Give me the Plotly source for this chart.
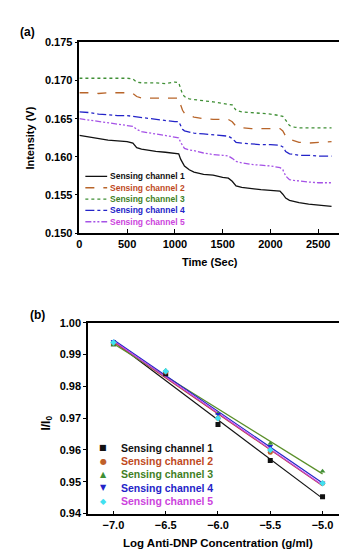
import numpy as np
import plotly.graph_objects as go

# ---------------- Panel (a) data ----------------
time_s = [0, 100, 200, 300, 400, 500, 560, 600, 650, 700, 800, 900, 1000, 1040, 1060, 1080, 1100,
          1150, 1200, 1300, 1400, 1500, 1560, 1600, 1640, 1700, 1800, 1900, 2000, 2100, 2130, 2160,
          2200, 2250, 2300, 2400, 2500, 2600, 2640]

ch1_intensity = [0.1628, 0.1626, 0.1624, 0.1622, 0.1621, 0.1620, 0.1618, 0.1612, 0.1610, 0.1609,
                 0.1607, 0.1606, 0.1604, 0.1604, 0.1597, 0.1592, 0.1588, 0.1583, 0.1580, 0.1577,
                 0.1576, 0.1573, 0.1572, 0.1568, 0.1562, 0.1560, 0.1558, 0.1557, 0.1556, 0.1555,
                 0.1551, 0.1546, 0.1543, 0.1541, 0.1540, 0.1538, 0.1537, 0.1536, 0.1535]
ch2_intensity = [0.1684, 0.1684, 0.1683, 0.1684, 0.1684, 0.1684, 0.1683, 0.1679, 0.1677, 0.1677,
                 0.1677, 0.1677, 0.1677, 0.1677, 0.1668, 0.1661, 0.1657, 0.1654, 0.1652, 0.1650,
                 0.1649, 0.1649, 0.1649, 0.1646, 0.1640, 0.1638, 0.1637, 0.1637, 0.1637, 0.1637,
                 0.1634, 0.1627, 0.1623, 0.1621, 0.1619, 0.1618, 0.1619, 0.1620, 0.1620]
ch3_intensity = [0.1703, 0.1703, 0.1703, 0.1703, 0.1703, 0.1703, 0.1702, 0.1698, 0.1697, 0.1697,
                 0.1697, 0.1696, 0.1698, 0.1697, 0.1688, 0.1682, 0.1679, 0.1676, 0.1675, 0.1674,
                 0.1672, 0.1670, 0.1669, 0.1668, 0.1661, 0.1659, 0.1658, 0.1657, 0.1656, 0.1654,
                 0.1653, 0.1648, 0.1641, 0.1639, 0.1638, 0.1638, 0.1638, 0.1638, 0.1638]
ch4_intensity = [0.1659, 0.1658, 0.1656, 0.1655, 0.1654, 0.1654, 0.1653, 0.1652, 0.1651, 0.1650,
                 0.1649, 0.1647, 0.1646, 0.1646, 0.1640, 0.1636, 0.1634, 0.1632, 0.1631, 0.1630,
                 0.1629, 0.1628, 0.1627, 0.1624, 0.1619, 0.1618, 0.1617, 0.1616, 0.1616, 0.1615,
                 0.1613, 0.1607, 0.1604, 0.1603, 0.1602, 0.1602, 0.1601, 0.1601, 0.1601]
ch5_intensity = [0.1650, 0.1648, 0.1646, 0.1644, 0.1642, 0.1641, 0.1640, 0.1636, 0.1633, 0.1632,
                 0.1630, 0.1628, 0.1626, 0.1625, 0.1619, 0.1614, 0.1611, 0.1609, 0.1608, 0.1605,
                 0.1603, 0.1602, 0.1601, 0.1598, 0.1594, 0.1592, 0.1590, 0.1589, 0.1588, 0.1586,
                 0.1583, 0.1575, 0.1570, 0.1569, 0.1568, 0.1567, 0.1566, 0.1566, 0.1566]

channel_names = ["Sensing channel 1", "Sensing channel 2", "Sensing channel 3",
                 "Sensing channel 4", "Sensing channel 5"]

# ---------------- Panel (b) data ----------------
log_conc = [-7.0, -6.5, -6.0, -5.5, -5.0]
ch1_ratio = [0.9934, 0.9840, 0.9680, 0.9567, 0.9453]
ch2_ratio = [0.9935, 0.9845, 0.9700, 0.9593, 0.9495]
ch3_ratio = [0.9930, 0.9850, 0.9715, 0.9620, 0.9533]
ch4_ratio = [0.9942, 0.9845, 0.9712, 0.9612, 0.9496]
ch5_ratio = [0.9938, 0.9848, 0.9700, 0.9600, 0.9495]

a_ticks_x = [0, 500, 1000, 1500, 2000, 2500]
a_ticks_y = [0.150, 0.155, 0.160, 0.165, 0.170, 0.175]
b_ticks_x = [-7.0, -6.5, -6.0, -5.5, -5.0]
b_ticks_y = [0.94, 0.95, 0.96, 0.97, 0.98, 0.99, 1.00]

# ---------------- styles ----------------
W, H = 347, 550
FONT = "Liberation Sans, Arial, sans-serif"
line_colors_a = ["#111111", "#b8652a", "#3f8f35", "#2323c8", "#a552e6"]
dashes_a = ["solid", "dash", "dot", "dashdot", "6px,2px,2px,2px,2px,2px"]
legend_text_colors = ["#111111", "#c04a1e", "#3f7f25", "#2323c8", "#cc44dd"]

line_colors_b = ["#111111", "#b8452a", "#5a8f2a", "#2323c8", "#c040e0"]
marker_colors_b = ["#111111", "#c0602a", "#3f8f35", "#2323c8", "#40e0f0"]
marker_symbols_b = ["square", "circle", "triangle-up", "triangle-down", "diamond"]
legend_glyphs_b = ["\u25A0", "\u25CF", "\u25B2", "\u25BC", "\u25C6"]


def px(x):
    return x / W


def py(y):
    return 1 - y / H


fig = go.Figure()

series_a = [ch1_intensity, ch2_intensity, ch3_intensity, ch4_intensity, ch5_intensity]
for name, vals, col, dsh in zip(channel_names, series_a, line_colors_a, dashes_a):
    fig.add_trace(go.Scatter(x=time_s, y=vals, mode="lines", name=name,
                             line=dict(color=col, width=1.3, dash=dsh),
                             xaxis="x", yaxis="y", showlegend=False))

series_b = [ch1_ratio, ch2_ratio, ch3_ratio, ch4_ratio, ch5_ratio]
for name, vals, lc in zip(channel_names, series_b, line_colors_b):
    slope, icpt = np.polyfit(log_conc, vals, 1)
    xf = np.array([log_conc[0], log_conc[-1]])
    fig.add_trace(go.Scatter(x=xf, y=slope * xf + icpt, mode="lines",
                             line=dict(color=lc, width=1.2),
                             xaxis="x2", yaxis="y2", showlegend=False))
for name, vals, mc, ms in zip(channel_names, series_b, marker_colors_b, marker_symbols_b):
    fig.add_trace(go.Scatter(x=log_conc, y=vals, mode="markers", name=name,
                             marker=dict(color=mc, symbol=ms, size=5),
                             xaxis="x2", yaxis="y2", showlegend=False))

axis_common = dict(showline=True, linecolor="black", linewidth=1.5, mirror=True,
                   showgrid=False, zeroline=False,
                   tickfont=dict(family=FONT, size=11, color="black", weight="bold"),
                   tickcolor="black", tickwidth=1.2)

fig.update_layout(
    width=W, height=H, autosize=False,
    margin=dict(l=0, r=0, t=0, b=0),
    paper_bgcolor="white", plot_bgcolor="white",
    font=dict(family=FONT, color="black"),
    showlegend=False,
    xaxis=dict(domain=[px(69), px(332)], anchor="y", range=[0, 2730],
               tickvals=a_ticks_x, ticks="inside", ticklen=4, **axis_common),
    yaxis=dict(domain=[py(224), py(29)], anchor="x", range=[0.150, 0.175],
               tickvals=a_ticks_y, tickformat=".3f", ticks="outside", ticklen=3, **axis_common),
    xaxis2=dict(domain=[px(77.7), px(340)], anchor="y2", range=[-7.243, -4.756],
                tickvals=b_ticks_x, tickformat=".1f", ticks="inside", ticklen=3, **axis_common),
    yaxis2=dict(domain=[py(510.7), py(315.7)], anchor="x2", range=[0.94, 1.00],
                tickvals=b_ticks_y, tickformat=".2f", ticks="outside", ticklen=3, **axis_common),
)

ann = []
bold = lambda s, c="black": dict(family=FONT, size=s, color=c, weight="bold")
ann.append(dict(text="(a)", x=px(7), y=py(18), xref="paper", yref="paper",
                xanchor="left", yanchor="middle", showarrow=False, font=bold(12)))
ann.append(dict(text="(b)", x=px(17), y=py(308), xref="paper", yref="paper",
                xanchor="left", yanchor="middle", showarrow=False, font=bold(12)))
ann.append(dict(text="Intensity (V)", x=px(19), y=py(126.5), xref="paper", yref="paper",
                textangle=-90, xanchor="center", yanchor="middle", showarrow=False, font=bold(11)))
ann.append(dict(text="Time (Sec)", x=px(200.5), y=py(254), xref="paper", yref="paper",
                xanchor="center", yanchor="middle", showarrow=False, font=bold(11)))
ann.append(dict(text="I/I<sub>0</sub>", x=px(36), y=py(418), xref="paper", yref="paper",
                textangle=-90, xanchor="center", yanchor="middle", showarrow=False, font=bold(12)))
ann.append(dict(text="Log Anti-DNP Concentration (g/ml)", x=px(208.9), y=py(541),
                xref="paper", yref="paper", xanchor="center", yanchor="middle",
                showarrow=False, font=bold(11.5)))

shapes = []
# legend (a): line samples + coloured labels
for i, (name, col, dsh, tc) in enumerate(zip(channel_names, line_colors_a, dashes_a, legend_text_colors)):
    yy = 166 + 11.6 * i
    shapes.append(dict(type="line", xref="paper", yref="paper",
                       x0=px(75), x1=px(97), y0=py(yy), y1=py(yy),
                       line=dict(color=col, width=1.3, dash=dsh)))
    ann.append(dict(text=name, x=px(98), y=py(yy), xref="paper", yref="paper",
                    xanchor="left", yanchor="middle", showarrow=False, font=bold(8.5, tc)))

# legend (b): marker glyphs + coloured labels
for i, (name, mc, g, tc) in enumerate(zip(channel_names, marker_colors_b, legend_glyphs_b, legend_text_colors)):
    yy = 443.3 + 13.7 * i
    ann.append(dict(text=g, x=px(93.3), y=py(yy), xref="paper", yref="paper",
                    xanchor="center", yanchor="middle", showarrow=False,
                    font=dict(family="DejaVu Sans", size=8, color=mc)))
    ann.append(dict(text=name, x=px(109), y=py(yy), xref="paper", yref="paper",
                    xanchor="left", yanchor="middle", showarrow=False, font=bold(10.5, tc)))

fig.update_layout(annotations=ann, shapes=shapes)
fig.write_html("out.html")
